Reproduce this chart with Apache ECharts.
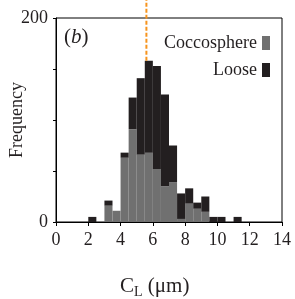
<!DOCTYPE html>
<html>
<head>
<meta charset="utf-8">
<script src="https://cdn.jsdelivr.net/npm/echarts@6/dist/echarts.min.js"></script>
<style>
  html, body { margin: 0; padding: 0; background: #fff; }
  #chart { width: 295px; height: 299px; }
</style>
</head>
<body>
<div id="chart"></div>
<script>
// histogram bins, 0.5 um wide (left edge of each bin)
var binStarts = [2.0, 2.5, 3.0, 3.5, 4.0, 4.5, 5.0, 5.5, 6.0, 6.5, 7.0, 7.5, 8.0, 8.5, 9.0, 9.5, 10.0, 10.5, 11.0];
var coccosphere = [0, 0, 16, 11, 63, 91, 66, 68, 52, 35, 39, 3, 18, 13, 10, 0, 0, 0, 0];
var loose = [5, 0, 5, 0, 5, 31, 75, 90, 101, 90, 36, 25, 15, 6, 15, 5, 5, 0, 5];
var binWidth = 0.5;
var meanLine = [5.6, 158, 218];   // x, y from, y to
var xTicks = [0, 2, 4, 6, 8, 10, 12, 14];

var chart = echarts.init(document.getElementById('chart'), null, { renderer: 'canvas' });
var serif = '"Liberation Serif", "DejaVu Serif", serif';

// stacked rects: [x0, yBottom, yTop]
var toRects = function (base, add) {
    var res = [];
    for (var i = 0; i < binStarts.length; i++) {
        if (add[i] > 0) res.push([binStarts[i], base[i], base[i] + add[i]]);
    }
    return res;
};
var zeros = binStarts.map(function () { return 0; });

var renderBar = function (params, api) {
    var p0 = api.coord([api.value(0), api.value(1)]);
    var p1 = api.coord([api.value(0) + binWidth, api.value(2)]);
    return {
        type: 'rect',
        shape: { x: p0[0], y: p1[1], width: p1[0] - p0[0], height: p0[1] - p1[1] },
        style: { fill: api.visual('color'), stroke: null, lineWidth: 0 }
    };
};

chart.setOption({
    animation: false,
    title: [{
        text: '{c|C}{s|L}{c| (μm)}',
        left: 115,
        top: 269,
        textStyle: {
            fontWeight: 'normal',
            rich: {
                c: { fontFamily: serif, fontSize: 21, fontWeight: 'normal', color: '#231f20', lineHeight: 25 },
                s: { fontFamily: serif, fontSize: 14, fontWeight: 'normal', color: '#231f20', lineHeight: 14, verticalAlign: 'bottom' }
            }
        }
    }, {
        text: '{n|(}{i|b}{n|)}',
        left: 59,
        top: 22,
        textStyle: {
            fontWeight: 'normal',
            rich: {
                n: { fontFamily: serif, fontSize: 21, fontWeight: 'normal', color: '#231f20' },
                i: { fontFamily: serif, fontSize: 21, fontWeight: 'normal', fontStyle: 'italic', color: '#231f20' }
            }
        }
    }],
    legend: {
        orient: 'vertical',
        align: 'right',
        right: 20,
        top: 29,
        itemWidth: 8,
        itemHeight: 14,
        itemGap: 9,
        icon: 'rect',
        textStyle: { fontFamily: serif, fontSize: 18, color: '#231f20', lineHeight: 14 },
        data: ['Coccosphere', 'Loose']
    },
    grid: {
        left: 56, right: 13, top: 18, bottom: 77,
        outerBoundsMode: 'none',
        containLabel: false,
        show: true, borderColor: '#000', borderWidth: 1
    },
    xAxis: {
        type: 'value',
        min: 0, max: 14, interval: 2,
        splitLine: { show: false },
        axisLine: { lineStyle: { color: '#000' } },
        axisTick: { show: true, length: 4, lineStyle: { color: '#000' } },
        axisLabel: {
            margin: 9, fontFamily: serif, fontSize: 18, color: '#231f20',
            formatter: function (v) { return xTicks.indexOf(v) >= 0 ? String(v) : ''; }
        }
    },
    yAxis: {
        type: 'value',
        min: 0, max: 200, interval: 50,
        name: 'Frequency',
        nameLocation: 'middle',
        nameGap: 30,
        nameMoveOverlap: false,
        nameTextStyle: { fontFamily: serif, fontSize: 18, color: '#231f20' },
        splitLine: { show: false },
        axisLine: { show: true, lineStyle: { color: '#000' } },
        axisTick: { show: true, length: 3, lineStyle: { color: '#000' } },
        axisLabel: {
            margin: 8, fontFamily: serif, fontSize: 18, color: '#231f20',
            formatter: function (v) { return (v === 0 || v === 200) ? String(v) : ''; }
        }
    },
    series: [{
        name: 'Coccosphere',
        type: 'custom',
        renderItem: renderBar,
        itemStyle: { color: '#707070' },
        encode: { x: 0, y: 2 },
        data: toRects(zeros, coccosphere)
    }, {
        name: 'Loose',
        type: 'custom',
        renderItem: renderBar,
        itemStyle: { color: '#231f20' },
        encode: { x: 0, y: 2 },
        data: toRects(coccosphere, loose)
    }, {
        name: 'mean',
        type: 'custom',
        clip: false,
        silent: true,
        renderItem: function (params, api) {
            var a = api.coord([api.value(0), api.value(1)]);
            var b = api.coord([api.value(0), api.value(2)]);
            return {
                type: 'line',
                shape: { x1: a[0], y1: a[1], x2: b[0], y2: b[1] },
                style: { stroke: '#f7941d', lineWidth: 2, lineDash: [4, 2] }
            };
        },
        encode: { x: 0, y: 1 },
        data: [meanLine]
    }]
});
</script>
</body>
</html>
